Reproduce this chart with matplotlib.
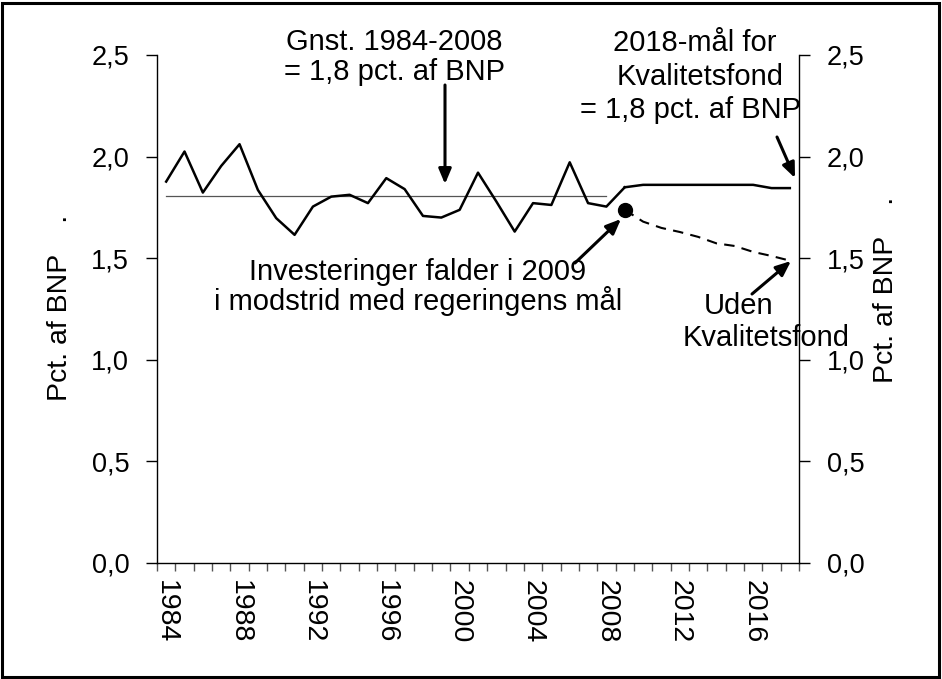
import numpy as np
import matplotlib.pyplot as plt
from matplotlib.patches import Rectangle

plt.rcParams['font.family'] = 'Liberation Sans'

# historical public investments, pct. of GDP
hist_years = list(range(1984, 2010))
hist_vals = [1.877, 2.025, 1.823, 1.954, 2.061, 1.836, 1.697, 1.615, 1.754, 1.803,
             1.812, 1.771, 1.894, 1.840, 1.708, 1.700, 1.738, 1.921, 1.779, 1.631,
             1.771, 1.762, 1.972, 1.771, 1.754, 1.849]

# with Kvalitetsfond (continues the solid line)
fund_years = list(range(2009, 2019))
fund_vals = [1.849, 1.861, 1.861, 1.861, 1.861, 1.861, 1.861, 1.861, 1.845, 1.845]

# without Kvalitetsfond
no_fund_years = list(range(2009, 2019))
no_fund_vals = [1.738, 1.680, 1.649, 1.629, 1.605, 1.573, 1.560, 1.531, 1.511, 1.488]

avg_years = [1984, 2008]
avg_val = 1.808

tick_years = [1984, 1988, 1992, 1996, 2000, 2004, 2008, 2012, 2016]

W, H = 942, 679
fig = plt.figure(figsize=(W / 100, H / 100), dpi=100)
ax = fig.add_axes([157 / W, 1 - 563 / H, (799 - 157) / W, (563 - 55) / H])

def px(x, y):
    # pixel -> figure fraction
    return (x / W, 1 - y / H)

ax.plot(avg_years, [avg_val, avg_val], color='#555555', lw=0.9)
ax.plot(hist_years, hist_vals, color='black', lw=1.8)
ax.plot(fund_years, fund_vals, color='black', lw=1.8)
ax.plot(no_fund_years, no_fund_vals, color='black', lw=1.5, ls=(0, (5, 3.5)))
ax.plot([no_fund_years[0]], [no_fund_vals[0]], 'o', color='black', ms=10)

ax.set_xlim(1983.5, 2018.5)
ax.set_ylim(0, 2.5)
ax.set_yticks([0, 0.5, 1.0, 1.5, 2.0, 2.5])
ax.set_yticklabels([f"{v:.1f}".replace('.', ',') for v in [0, 0.5, 1.0, 1.5, 2.0, 2.5]])
ax.set_xticks(tick_years)
ax.set_xticklabels([str(y) for y in tick_years], rotation=270, va='top')
ax.set_xticks(np.arange(1983.5, 2019), minor=True)

ax.spines['top'].set_visible(False)
ax.yaxis.set_ticks_position('both')
ax.tick_params(axis='y', direction='out', length=8, width=1, labelsize=19.5,
               labelleft=True, labelright=True, pad=12)
ax.tick_params(axis='x', which='major', length=0, labelsize=20.5, pad=12)
ax.tick_params(axis='x', which='minor', direction='out', length=6, width=1, color='#555555')
for s in ['left', 'right', 'bottom']:
    ax.spines[s].set_linewidth(1.0)

fs = 21
fig.text(*px(60, 308), "Pct. af BNP    .", rotation=90, fontsize=20.5,
         ha='center', va='center')
fig.text(*px(886, 290), "Pct. af BNP    .", rotation=90, fontsize=20.5,
         ha='center', va='center')

fig.text(*px(394, 42), "Gnst. 1984-2008", fontsize=fs, ha='center', va='center')
fig.text(*px(394, 72), "= 1,8 pct. af BNP", fontsize=fs, ha='center', va='center')
fig.text(*px(695, 43), "2018-mål for", fontsize=fs, ha='center', va='center')
fig.text(*px(700, 77), "Kvalitetsfond", fontsize=fs, ha='center', va='center')
fig.text(*px(690, 110), "= 1,8 pct. af BNP", fontsize=fs, ha='center', va='center')
fig.text(*px(418, 272), "Investeringer falder i 2009", fontsize=fs, ha='center', va='center')
fig.text(*px(418, 301), "i modstrid med regeringens mål", fontsize=fs, ha='center', va='center')
fig.text(*px(739, 306), "Uden", fontsize=fs, ha='center', va='center')
fig.text(*px(766, 338), "Kvalitetsfond", fontsize=fs, ha='center', va='center')

arrows = [((445, 85), (445, 184)),
          ((777, 137), (795, 178)),
          ((575, 263), (621, 219)),
          ((752, 294), (791, 261))]
for (x0, y0), (x1, y1) in arrows:
    ax.annotate('', xy=px(x1, y1), xycoords='figure fraction',
                xytext=px(x0, y0), textcoords='figure fraction',
                arrowprops=dict(arrowstyle='-|>,head_length=0.9,head_width=0.38',
                                color='black', lw=2.2, shrinkA=0, shrinkB=0))

fig.patches.append(Rectangle((2 / W, 2 / H), 1 - 5 / W, 1 - 5 / H, transform=fig.transFigure,
                             fill=False, edgecolor='black', lw=2.2))

fig.savefig('out.png', dpi=100)
